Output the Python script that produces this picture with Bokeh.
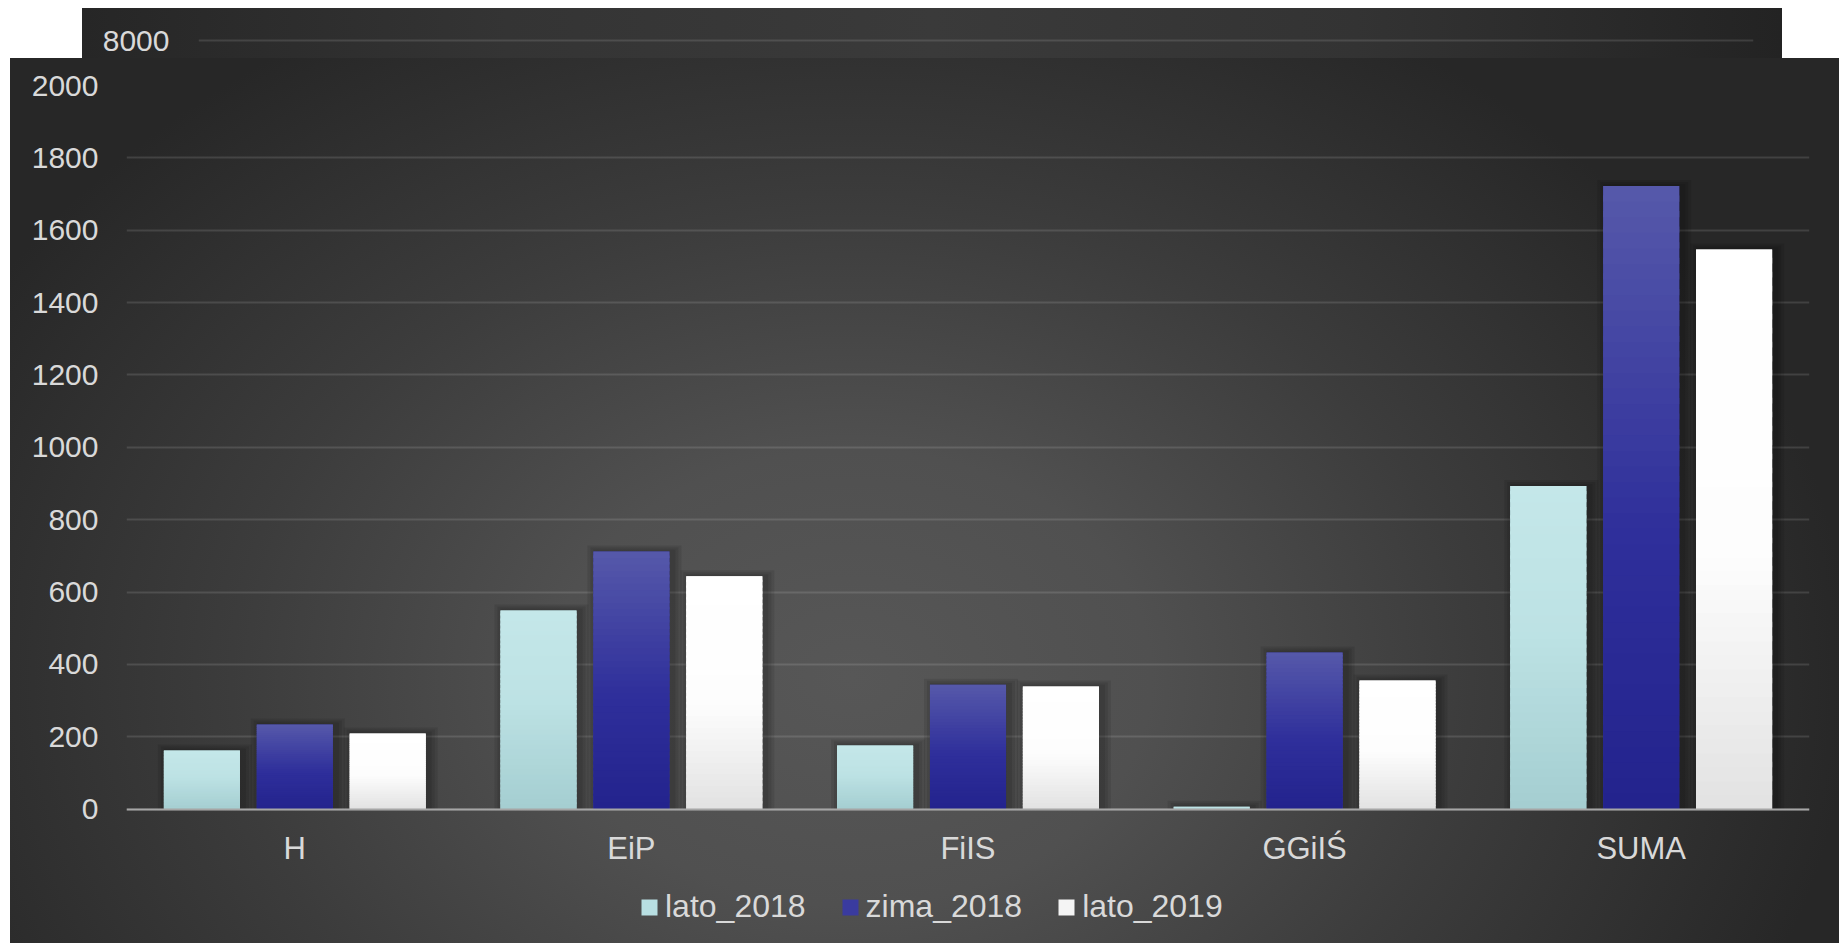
from bokeh.plotting import figure
from bokeh.models import (FactorRange, Range1d, FixedTicker, Legend, LegendItem,
                          ColumnDataSource, Spacer)
from bokeh.transform import dodge
from bokeh.layouts import column, row
from bokeh.embed import file_html
from bokeh.resources import INLINE

# ---------------- data ----------------
categories = ["H", "EiP", "FiIS", "GGiIŚ", "SUMA"]
series_names = ["lato_2018", "zima_2018", "lato_2019"]
lato_2018 = [162, 549, 176, 7, 893]
zima_2018 = [234, 712, 344, 433, 1722]
lato_2019 = [209, 644, 339, 356, 1547]
y_ticks = [0, 200, 400, 600, 800, 1000, 1200, 1400, 1600, 1800, 2000]
back_ticks = [8000]

series_values = [lato_2018, zima_2018, lato_2019]

# ---------------- styles ----------------
FONT = "Liberation Sans"
LABEL_COLOR = "#d9d9d9"
offsets = [-0.276, 0.0, 0.276]
bar_w = 0.226
gradients = [
    [(0.0, "#c4e7e9"), (0.45, "#bde2e4"), (1.0, "#a4ced1")],
    [(0.0, "#5659aa"), (0.55, "#2f2f9b"), (1.0, "#23238d")],
    [(0.0, "#ffffff"), (0.55, "#fdfdfd"), (1.0, "#e2e2e2")],
]
legend_colors = ["#b8dfe2", "#3a3b9f", "#f4f4f4"]


def hex2rgb(h):
    h = h.lstrip("#")
    return tuple(int(h[i:i + 2], 16) for i in (0, 2, 4))


def color_at(stops, t):
    for (p0, c0), (p1, c1) in zip(stops[:-1], stops[1:]):
        if p0 <= t <= p1:
            f = 0 if p1 == p0 else (t - p0) / (p1 - p0)
            a, b = hex2rgb(c0), hex2rgb(c1)
            return "#%02x%02x%02x" % tuple(int(round(a[i] + (b[i] - a[i]) * f)) for i in range(3))
    return stops[-1][1]


# frame reaches the bottom of the panel; the value axis 0..2000 occupies the upper 724 px
p = figure(x_range=FactorRange(factors=categories, range_padding=0),
           y_range=Range1d(-371, 2000),
           frame_width=1683, frame_height=858,
           output_backend="svg", toolbar_location=None,
           min_border_left=116, min_border_right=30,
           min_border_top=27, min_border_bottom=0)
p.border_fill_alpha = 0
p.background_fill_alpha = 0
p.outline_line_color = None
p.styles = {"background": "radial-gradient(ellipse 1000px 760px at 46% 70%, #575757 0%, #505050 30%, #3c3c3c 62%, #272727 100%)"}

# y axis
p.yaxis.ticker = FixedTicker(ticks=y_ticks)
p.yaxis.axis_line_color = None
p.yaxis.major_tick_line_color = None
p.yaxis.minor_tick_line_color = None
p.yaxis.major_tick_out = 0
p.yaxis.major_tick_in = 0
p.yaxis.major_label_standoff = 28
p.yaxis.major_label_text_font = FONT
p.yaxis.major_label_text_font_size = "30px"
p.yaxis.major_label_text_color = LABEL_COLOR

# x axis drawn at value 0
p.xaxis.fixed_location = 0
p.xaxis.axis_line_color = "#a6a6a6"
p.xaxis.axis_line_width = 2
p.xaxis.major_tick_line_color = None
p.xaxis.minor_tick_line_color = None
p.xaxis.major_tick_out = 0
p.xaxis.major_tick_in = 0
p.xaxis.major_label_standoff = 22
p.xaxis.major_label_text_font = FONT
p.xaxis.major_label_text_font_size = "31px"
p.xaxis.major_label_text_color = LABEL_COLOR

p.xgrid.grid_line_color = None
p.ygrid.grid_line_color = "white"
p.ygrid.grid_line_alpha = 0.12
p.ygrid.grid_line_width = 2

px_x = 1.0 / 336.6
px_y = 2000.0 / 724.0

legend_items = []
N = 40
for s, (name, vals, off, stops, lc) in enumerate(zip(series_names, series_values, offsets, gradients, legend_colors)):
    # soft shadow
    for k in (3, 2, 1):
        ssrc = ColumnDataSource(dict(cat=categories, top=[v + k * 2 * px_y for v in vals]))
        p.vbar(x=dodge("cat", off + 3 * px_x, range=p.x_range), top="top", bottom=0,
               width=bar_w + 2 * k * 3 * px_x, source=ssrc,
               fill_color="black", fill_alpha=0.09, line_color=None)
    src = ColumnDataSource(dict(cat=categories, val=vals))
    r = p.vbar(x=dodge("cat", off, range=p.x_range), top="val", bottom=0, width=bar_w,
               source=src, fill_color=lc, line_color=None)
    legend_items.append(LegendItem(label=name, renderers=[r]))
    # gradient slices
    cats_rep, bots, tops, cols = [], [], [], []
    for c, v in zip(categories, vals):
        step = v / N
        for i in range(N):
            cats_rep.append(c)
            bots.append(step * i)
            tops.append(min(v, step * (i + 1) + step * 0.4))
            cols.append(color_at(stops, 1.0 - (i + 0.5) / N))
    gsrc = ColumnDataSource(dict(cat=cats_rep, bottom=bots, top=tops, color=cols))
    p.vbar(x=dodge("cat", off, range=p.x_range), top="top", bottom="bottom", width=bar_w,
           source=gsrc, fill_color="color", line_color=None)

legend = Legend(items=legend_items, orientation="horizontal", location=(513, 18),
                glyph_width=20, glyph_height=20, label_standoff=6, spacing=34,
                padding=0, margin=0,
                label_text_font=FONT, label_text_font_size="32px",
                label_text_color=LABEL_COLOR,
                background_fill_alpha=0, border_line_color=None)
p.add_layout(legend)

# ---------------- chart behind (only its top visible) ----------------
t = figure(x_range=Range1d(0, 1), y_range=Range1d(7100, 9600),
           width=1700, height=50, output_backend="svg", toolbar_location=None,
           min_border_left=116, min_border_right=29, min_border_top=0, min_border_bottom=0)
t.border_fill_alpha = 0
t.background_fill_alpha = 0
t.outline_line_color = None
t.styles = {"background": "linear-gradient(to right, #262626 0%, #343434 25%, #3a3a3a 50%, #333333 75%, #232323 100%)"}
t.xaxis.visible = False
t.xgrid.grid_line_color = None
t.ygrid.grid_line_color = "white"
t.ygrid.grid_line_alpha = 0.12
t.ygrid.grid_line_width = 2
t.yaxis.ticker = FixedTicker(ticks=back_ticks)
t.yaxis.axis_line_color = None
t.yaxis.major_tick_line_color = None
t.yaxis.minor_tick_line_color = None
t.yaxis.major_tick_out = 0
t.yaxis.major_tick_in = 0
t.yaxis.major_label_standoff = 29
t.yaxis.major_label_text_font = FONT
t.yaxis.major_label_text_font_size = "30px"
t.yaxis.major_label_text_color = LABEL_COLOR

layout = column(Spacer(width=10, height=8),
                row(Spacer(width=82, height=50), t),
                row(Spacer(width=10, height=885), p))

open("out.html", "w").write(file_html(layout, INLINE))
